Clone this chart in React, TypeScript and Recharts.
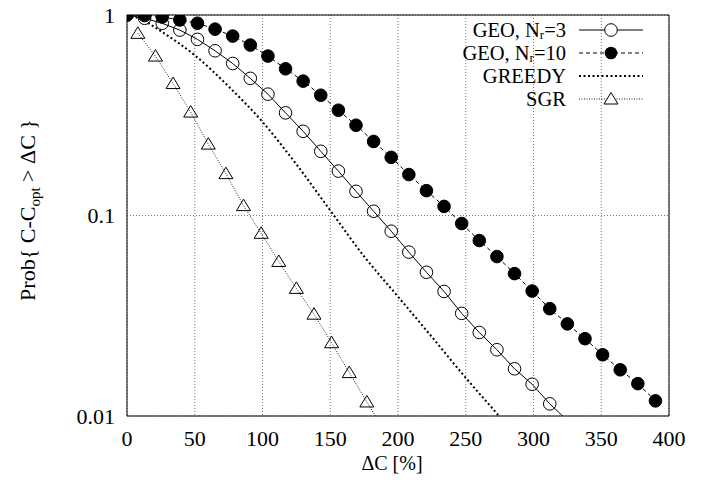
import {
  LineChart,
  Line,
  XAxis,
  YAxis,
  CartesianGrid,
  Legend,
  ReferenceLine,
} from "recharts";

const geoX = [
  0, 13, 26, 39, 52, 65, 78, 91, 104, 117, 130, 143, 156, 169, 182, 195, 208,
  221, 234, 247, 260, 273, 286, 299, 312, 325, 338, 351, 364, 377, 390,
];

// GEO, Nr=3 (last point has no marker, it only carries the line past 0.01)
const geo3Y = [
  1, 0.963, 0.909, 0.841, 0.756, 0.663, 0.573, 0.483, 0.403, 0.325, 0.263,
  0.209, 0.1665, 0.132, 0.105, 0.0835, 0.0657, 0.0521, 0.0418, 0.0325, 0.0261,
  0.0214, 0.0172, 0.0144, 0.0115, 0.0095,
];

// GEO, Nr=10
const geo10Y = [
  1, 0.995, 0.978, 0.945, 0.91, 0.85, 0.785, 0.708, 0.624, 0.539, 0.468,
  0.398, 0.335, 0.282, 0.234, 0.195, 0.16, 0.133, 0.111, 0.0912, 0.075,
  0.0624, 0.0513, 0.042, 0.0343, 0.0288, 0.0243, 0.0202, 0.017, 0.0145,
  0.0119,
];

const greedyX = [0, 10, 25, 50, 75, 100, 125, 150, 175, 200, 225, 250, 275, 285];
const greedyY = [
  1, 0.955, 0.83, 0.63, 0.44, 0.293, 0.18, 0.106, 0.0625, 0.0394, 0.0248,
  0.0155, 0.0099, 0.0082,
];

const sgrX = [8, 21, 34, 47, 60, 73, 86, 99, 112, 125, 138, 151, 164, 177, 190];
const sgrY = [
  0.81, 0.624, 0.455, 0.328, 0.227, 0.1617, 0.112, 0.0815, 0.059, 0.0433,
  0.0322, 0.0232, 0.01646, 0.01175, 0.0085,
];

const xTicks = [0, 50, 100, 150, 200, 250, 300, 350, 400];
const yTicks = [0.01, 0.1, 1];
const yMinorTicks = [
  0.02, 0.03, 0.04, 0.05, 0.06, 0.07, 0.08, 0.09, 0.2, 0.3, 0.4, 0.5, 0.6,
  0.7, 0.8, 0.9,
];

const FONT = "'Liberation Serif', 'DejaVu Serif', serif";
const MIN_Y = 0.01;

const toPoints = (xs: number[], ys: number[]) =>
  ys.map((y, i) => ({ x: xs[i], y }));

const geo3Data = toPoints(geoX, geo3Y);
const geo10Data = toPoints(geoX, geo10Y);
const greedyData = toPoints(greedyX, greedyY);
const sgrData = toPoints(sgrX, sgrY);

const circleDot = (filled: boolean) => (props: any) => {
  const { cx, cy, payload, index } = props;
  if (payload.y < MIN_Y || cx == null || cy == null) return <g key={index} />;
  return (
    <circle
      key={index}
      cx={cx}
      cy={cy}
      r={6.3}
      fill={filled ? "#000" : "none"}
      stroke="#000"
      strokeWidth={1}
    />
  );
};

const triangleDot = (props: any) => {
  const { cx, cy, payload, index } = props;
  if (payload.y < MIN_Y || cx == null || cy == null) return <g key={index} />;
  return (
    <path
      key={index}
      d={`M${cx},${cy - 6.5} L${cx + 7},${cy + 5} L${cx - 7},${cy + 5} Z`}
      fill="none"
      stroke="#000"
      strokeWidth={1}
    />
  );
};

const LegendBox = () => {
  const rows = [30, 53, 76, 99];
  const textX = 566;
  const x1 = 579;
  const x2 = 643;
  const mid = 611;
  return (
    <svg width={709} height={483} style={{ position: "absolute", left: 0, top: 0 }}>
      <g fontFamily={FONT} fontSize={20.5} fill="#000" textAnchor="end">
        <text x={textX} y={rows[0]} dy="0.33em">
          GEO, N
          <tspan fontSize={13} dy={2}>r</tspan>
          <tspan dy={-2}>=3</tspan>
        </text>
        <text x={textX} y={rows[1]} dy="0.33em">
          GEO, N
          <tspan fontSize={13} dy={2}>r</tspan>
          <tspan dy={-2}>=10</tspan>
        </text>
        <text x={textX} y={rows[2]} dy="0.33em">GREEDY</text>
        <text x={textX} y={rows[3]} dy="0.33em">SGR</text>
      </g>
      <line x1={x1} x2={x2} y1={rows[0]} y2={rows[0]} stroke="#000" />
      <circle cx={mid} cy={rows[0]} r={6.3} fill="#fff" stroke="#000" />
      <line x1={x1} x2={x2} y1={rows[1]} y2={rows[1]} stroke="#000" strokeDasharray="4 3" />
      <circle cx={mid} cy={rows[1]} r={6.3} fill="#000" />
      <line x1={x1} x2={x2} y1={rows[2]} y2={rows[2]} stroke="#000" strokeWidth={2} strokeDasharray="2 2.5" />
      <line x1={x1} x2={x2} y1={rows[3]} y2={rows[3]} stroke="#222" strokeDasharray="1 1.5" />
      <path
        d={`M${mid},${rows[3] - 6.5} L${mid + 7},${rows[3] + 5} L${mid - 7},${rows[3] + 5} Z`}
        fill="#fff"
        stroke="#000"
      />
    </svg>
  );
};

const tickStyle = { fontFamily: FONT, fontSize: 22, fill: "#000" };

const App = () => {
  return (
    <div style={{ width: 709, height: 483 }}>
      <style>{"body{margin:0}"}</style>
      <LineChart
        width={709}
        height={483}
        margin={{ top: 15, right: 40, bottom: 37, left: 0 }}
      >
        <CartesianGrid
          yAxisId="y"
          stroke="#777"
          strokeDasharray="1 2"
        />
        <XAxis
          dataKey="x"
          type="number"
          domain={[0, 400]}
          ticks={xTicks}
          allowDataOverflow
          height={30}
          tickLine={false}
          tickSize={0}
          tickMargin={14}
          axisLine={{ stroke: "#000" }}
          tick={tickStyle}
          label={() => (
            <text
              x={392}
              y={463}
              dy="0.35em"
              textAnchor="middle"
              fontFamily={FONT}
              fontSize={20}
              fill="#000"
            >
              ΔC [%]
            </text>
          )}
        />
        <YAxis
          yAxisId="y"
          width={127}
          scale="log"
          domain={[0.01, 1]}
          allowDataOverflow
          ticks={yTicks}
          tickFormatter={(v: number) => String(v)}
          tickLine={false}
          tickSize={0}
          tickMargin={12}
          axisLine={{ stroke: "#000" }}
          tick={tickStyle}
          label={() => (
            <text
              transform="translate(27,210) rotate(-90)"
              textAnchor="middle"
              dy="0.35em"
              fontFamily={FONT}
              fontSize={22}
              fill="#000"
            >
              Prob{"{"} C-C
              <tspan fontSize={15} dy={5}>opt</tspan>
              <tspan dy={-5}> {">"} ΔC {"}"}</tspan>
            </text>
          )}
        />
        <YAxis
          yAxisId="minL"
          orientation="left"
          mirror
          scale="log"
          domain={[0.01, 1]}
          allowDataOverflow
          ticks={yMinorTicks}
          tick={false}
          axisLine={false}
          tickSize={4}
          tickLine={{ stroke: "#000" }}
        />
        <YAxis
          yAxisId="majL"
          orientation="left"
          mirror
          scale="log"
          domain={[0.01, 1]}
          allowDataOverflow
          ticks={yTicks}
          tick={false}
          axisLine={false}
          tickSize={7}
          tickLine={{ stroke: "#000" }}
        />
        <YAxis
          yAxisId="minR"
          orientation="right"
          mirror
          scale="log"
          domain={[0.01, 1]}
          allowDataOverflow
          ticks={yMinorTicks}
          tick={false}
          axisLine={false}
          tickSize={4}
          tickLine={{ stroke: "#000" }}
        />
        <YAxis
          yAxisId="majR"
          orientation="right"
          mirror
          scale="log"
          domain={[0.01, 1]}
          allowDataOverflow
          ticks={yTicks}
          tick={false}
          axisLine={false}
          tickSize={7}
          tickLine={{ stroke: "#000" }}
        />
        <ReferenceLine yAxisId="y" y={1} stroke="#000" />
        <ReferenceLine yAxisId="y" x={400} stroke="#000" />
        <Line
          yAxisId="y"
          data={geo3Data}
          dataKey="y"
          name="GEO, Nr=3"
          stroke="#000"
          strokeWidth={1}
          dot={circleDot(false)}
          activeDot={false}
          isAnimationActive={false}
        />
        <Line
          yAxisId="y"
          data={geo10Data}
          dataKey="y"
          name="GEO, Nr=10"
          stroke="#000"
          strokeWidth={1}
          strokeDasharray="4 3"
          dot={circleDot(true)}
          activeDot={false}
          isAnimationActive={false}
        />
        <Line
          yAxisId="y"
          data={greedyData}
          dataKey="y"
          name="GREEDY"
          type="monotone"
          stroke="#000"
          strokeWidth={2}
          strokeDasharray="2 2.5"
          dot={false}
          activeDot={false}
          isAnimationActive={false}
        />
        <Line
          yAxisId="y"
          data={sgrData}
          dataKey="y"
          name="SGR"
          stroke="#222"
          strokeWidth={1}
          strokeDasharray="1 1.5"
          dot={triangleDot}
          activeDot={false}
          isAnimationActive={false}
        />
        <Legend
          layout="vertical"
          align="center"
          verticalAlign="middle"
          content={() => <LegendBox />}
          wrapperStyle={{
            position: "absolute",
            left: 0,
            top: 0,
            width: 709,
            height: 483,
            pointerEvents: "none",
          }}
        />
      </LineChart>
    </div>
  );
};

export default App;
